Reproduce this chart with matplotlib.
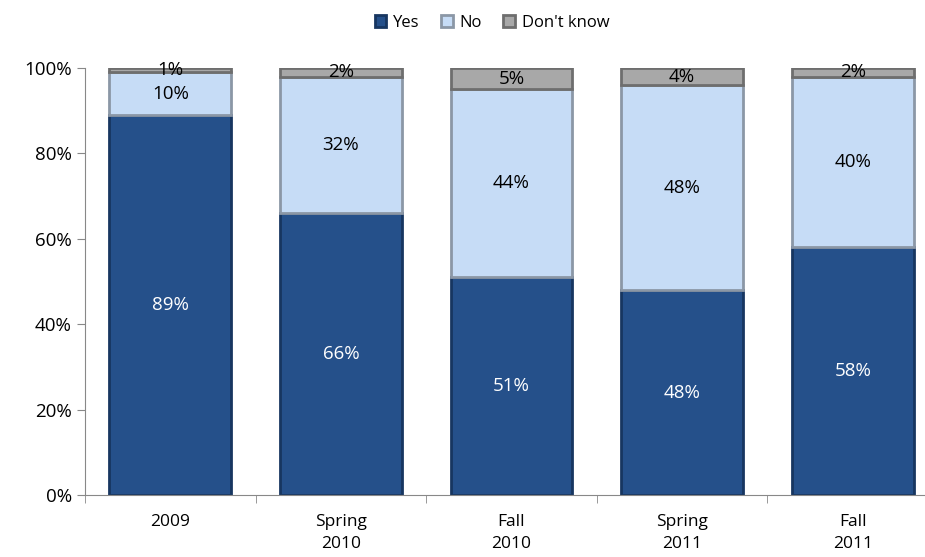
import numpy as np
import matplotlib
matplotlib.use('Agg')
from matplotlib import pyplot as plt

plt.rcParams['font.family'] = ['Open Sans', 'DejaVu Sans']

# data
periods = ['2009', 'Spring\n2010', 'Fall\n2010', 'Spring\n2011', 'Fall\n2011']
yes = [89, 66, 51, 48, 58]
no = [10, 32, 44, 48, 40]
dont_know = [1, 2, 5, 4, 2]

series = [('Yes', yes, '#25508a', '#173660', 'white'),
          ('No', no, '#c6dcf6', '#8b97a6', 'black'),
          ("Don't know", dont_know, '#a8a8a8', '#6e6e6e', 'black')]

fig = plt.figure(figsize=(9.25, 5.57), dpi=100)
ax = fig.add_axes([85/925, 62/557, (938-85)/925, (495-68)/557])

x = np.arange(len(periods))
bottom = np.zeros(len(periods))
for name, vals, fc, ec, tc in series:
    vals = np.array(vals, dtype=float)
    ax.bar(x, vals, 0.715, bottom=bottom, color=fc, edgecolor=ec,
           linewidth=2, label=name)
    for xi, b, v in zip(x, bottom, vals):
        ax.text(xi, b + v/2, f'{int(v)}%', ha='center', va='center',
                fontsize=13.5, color=tc)
    bottom += vals

ax.set_xlim(-0.5, 4.5)
ax.set_ylim(0, 100)
ax.set_yticks(range(0, 101, 20))
ax.set_yticklabels([f'{v}%' for v in range(0, 101, 20)], fontsize=13.5)
ax.set_xticks(x)
ax.set_xticklabels(periods, fontsize=12.5, linespacing=1.5)
ax.set_xticks(np.arange(-0.5, 4.6, 1), minor=True)
ax.tick_params(axis='x', which='major', length=0, pad=14)
ax.tick_params(axis='x', which='minor', length=6, color='#888888')
ax.tick_params(axis='y', length=6, color='#888888', direction='out')
for s in ['top', 'right']:
    ax.spines[s].set_visible(False)
ax.spines['left'].set_color('#888888')
ax.spines['bottom'].set_color('#888888')

ax.legend(loc='upper center', bbox_to_anchor=(492/925, 1.0), bbox_transform=fig.transFigure,
          ncol=3, frameon=False, fontsize=12, handlelength=0.7, handleheight=0.7,
          columnspacing=1.3, handletextpad=0.4)

fig.savefig('out.png', dpi=100)
